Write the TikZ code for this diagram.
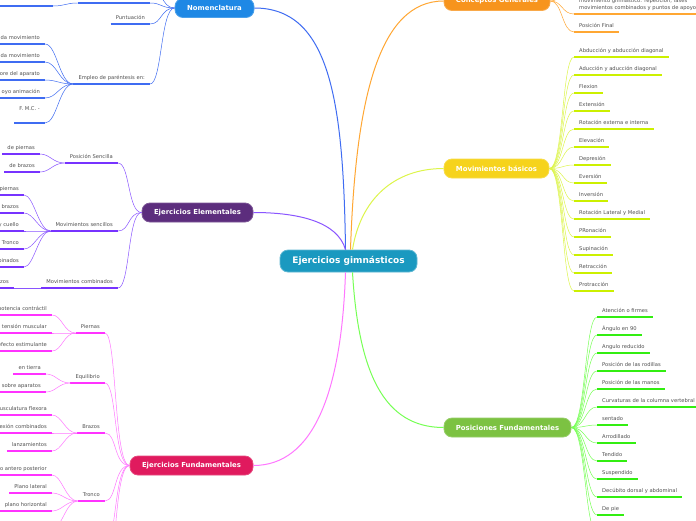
\documentclass[tikz,border=0pt]{standalone}
\usepackage{fontspec}
\setmainfont{DejaVu Sans}
\definecolor{cfill}{HTML}{1A99C0}
\definecolor{nomfill}{HTML}{1E88E5}
\definecolor{nomline}{HTML}{3F6CF2}
\definecolor{cgfill}{HTML}{F7941D}
\definecolor{cgline}{HTML}{FFA733}
\definecolor{mbfill}{HTML}{F6D31C}
\definecolor{mbline}{HTML}{DDF54A}
\definecolor{mbund}{HTML}{CCF000}
\definecolor{pffill}{HTML}{7CC242}
\definecolor{pfline}{HTML}{77FF55}
\definecolor{pfund}{HTML}{33EE11}
\definecolor{eefill}{HTML}{5C2D7D}
\definecolor{eeline}{HTML}{8A55FF}
\definecolor{eeund}{HTML}{7733FF}
\definecolor{effill}{HTML}{E01A5E}
\definecolor{efline}{HTML}{FF77FF}
\definecolor{efund}{HTML}{FF33FF}
\definecolor{leaftext}{HTML}{505050}
\begin{document}
\begin{tikzpicture}[
  x=1pt, y=-1pt,
  topic/.style={rectangle, rounded corners=8pt, fill=cfill, draw=cfill!70!white, line width=0.8pt, text=white,
    minimum width=137pt, minimum height=22pt, font=\bfseries\fontsize{9}{10}\selectfont},
  branch/.style={rectangle, rounded corners=8pt, fill=#1fill, draw=#1fill!80!white, line width=0.8pt, text=white,
    minimum height=19pt, inner xsep=2pt, font=\bfseries\fontsize{6.9}{8}\selectfont},
  leaf/.style={font=\fontsize{5.2}{6.8}\selectfont, text=leaftext, inner xsep=5pt, inner ysep=3pt,
    text height=3.9pt, text depth=1pt,
    append after command={(\tikzlastnode.south west) edge[draw=#1, line width=1.3pt] (\tikzlastnode.south east)}},
  trunk/.style={draw=#1, line width=1pt},
  link/.style={draw=#1, line width=0.5pt}
]
\path[use as bounding box, fill=white] (0,0) rectangle (696,520);

\node[topic] (root) at (348.5,261) {Ejercicios gimnásticos};

\node[branch=nom, minimum width=79pt] (nom) at (214.5,8) {Nomenclatura};
\node[branch=cg, minimum width=106pt] (cg) at (497,1) {Conceptos Generales};
\node[branch=mb, minimum width=105pt] (mb) at (496.5,168.5) {Movimientos básicos};
\node[branch=pf, minimum width=127pt] (pf) at (507.5,427.5) {Posiciones Fundamentales};
\node[branch=ee, minimum width=111pt] (ee) at (197.5,212.5) {Ejercicios Elementales};
\node[branch=ef, minimum width=123pt] (ef) at (191.5,465.5) {Ejercicios Fundamentales};

\draw[trunk=nomline] ([xshift=-3pt]root.north) .. controls +(-2,-150) and +(75,0) .. (nom.east);
\draw[trunk=cgline] ([xshift=2pt]root.north) .. controls +(5,-150) and +(-65,0) .. (cg.west);
\draw[trunk=mbline] ([xshift=4pt]root.north) .. controls +(8,-50) and +(-50,0) .. (mb.west);
\draw[trunk=pfline] ([xshift=4pt]root.south) .. controls +(6,100) and +(-60,0) .. (pf.west);
\draw[trunk=eeline] ([xshift=-3pt]root.north) .. controls +(-8,-28) and +(45,0) .. (ee.east);
\draw[trunk=efline] ([xshift=-3pt]root.south) .. controls +(-4,120) and +(60,0) .. (ef.east);

% Nomenclatura
\coordinate (nom0) at (150,-14);
\node[leaf=nomline, anchor=south east, minimum width=72pt] (nom1) at (150,3) {};
\node[leaf=nomline, anchor=south east, minimum width=60pt] (nom1a) at (53,6) {};
\node[leaf=nomline, anchor=south east] (nom2) at (150,24) {Puntuación};
\node[leaf=nomline, anchor=south east] (nom3) at (150,84) {Empleo de paréntesis en:};
\node[leaf=nomline, anchor=south east] (nom3a) at (45,44) {da movimiento};
\node[leaf=nomline, anchor=south east] (nom3b) at (45,62) {da movimiento};
\node[leaf=nomline, anchor=south east] (nom3c) at (45,80) {ore del aparato};
\node[leaf=nomline, anchor=south east] (nom3d) at (45,98) {oyo animación};
\node[leaf=nomline, anchor=south east, text depth=9pt] (nom3e) at (45,123) {F. M.C. -};
\foreach \k in {nom0,nom1.south east,nom2.south east,nom3.south east}
  \draw[link=nomline] (nom.west) .. controls +(-14,0) and +(12,0) .. (\k);
\draw[link=nomline] (nom1.south west) .. controls +(-12,0) and +(12,0) .. (nom1a.south east);
\foreach \k in {nom3a,nom3b,nom3c,nom3d,nom3e}
  \draw[link=nomline] (nom3.south west) .. controls +(-14,0) and +(12,0) .. (\k.south east);

% Conceptos Generales
\coordinate (cg0) at (574,-14);
\node[leaf=cgline, anchor=south west, align=left, text height={}, text depth={}] (cg1) at (574,14)
  {movimiento gimnástico: repetición, fases\\movimientos combinados y puntos de apoyo};
\node[leaf=cgline, anchor=south west] (cg2) at (574,32) {Posición Final};
\foreach \k in {cg0,cg1.south west,cg2.south west}
  \draw[link=cgline] (cg.east) .. controls +(12,0) and +(-12,0) .. (\k);

% Movimientos basicos
\node[leaf=mbund, anchor=south west] (mb1) at (574,57) {Abducción y abducción diagonal};
\node[leaf=mbund, anchor=south west] (mb2) at (574,75) {Aducción y aducción diagonal};
\node[leaf=mbund, anchor=south west] (mb3) at (574,93) {Flexion};
\node[leaf=mbund, anchor=south west] (mb4) at (574,111) {Extensión};
\node[leaf=mbund, anchor=south west] (mb5) at (574,129) {Rotación externa e interna};
\node[leaf=mbund, anchor=south west] (mb6) at (574,147) {Elevación};
\node[leaf=mbund, anchor=south west] (mb7) at (574,165) {Depresión};
\node[leaf=mbund, anchor=south west] (mb8) at (574,183) {Eversión};
\node[leaf=mbund, anchor=south west] (mb9) at (574,201) {Inversión};
\node[leaf=mbund, anchor=south west] (mb10) at (574,219) {Rotación Lateral y Medial};
\node[leaf=mbund, anchor=south west] (mb11) at (574,237) {PRonación};
\node[leaf=mbund, anchor=south west] (mb12) at (574,255) {Supinación};
\node[leaf=mbund, anchor=south west] (mb13) at (574,273) {Retracción};
\node[leaf=mbund, anchor=south west] (mb14) at (574,291) {Protracción};
\foreach \k in {1,...,14}
  \draw[link=mbline] (mb.east) .. controls +(14,0) and +(-12,0) .. (mb\k.south west);

% Posiciones Fundamentales
\node[leaf=pfund, anchor=south west] (pf1) at (597,317) {Atención o firmes};
\node[leaf=pfund, anchor=south west] (pf2) at (597,335) {Ángulo en 90};
\node[leaf=pfund, anchor=south west] (pf3) at (597,353) {Angulo reducido};
\node[leaf=pfund, anchor=south west] (pf4) at (597,371) {Posición de las rodillas};
\node[leaf=pfund, anchor=south west] (pf5) at (597,389) {Posición de las manos};
\node[leaf=pfund, anchor=south west] (pf6) at (597,407) {Curvaturas de la columna vertebral};
\node[leaf=pfund, anchor=south west] (pf7) at (597,425) {sentado};
\node[leaf=pfund, anchor=south west] (pf8) at (597,443) {Arrodillado};
\node[leaf=pfund, anchor=south west] (pf9) at (597,461) {Tendido};
\node[leaf=pfund, anchor=south west] (pf10) at (597,479) {Suspendido};
\node[leaf=pfund, anchor=south west] (pf11) at (597,497) {Decúbito dorsal y abdominal};
\node[leaf=pfund, anchor=south west] (pf12) at (597,515) {De pie};
\coordinate (pf13) at (597,533);
\foreach \k in {1,...,12}
  \draw[link=pfline] (pf.east) .. controls +(14,0) and +(-12,0) .. (pf\k.south west);
\draw[link=pfline] (pf.east) .. controls +(14,0) and +(-12,0) .. (pf13);

% Ejercicios Elementales
\node[leaf=eeund, anchor=south east] (ee1) at (118,163) {Posición Sencilla};
\node[leaf=eeund, anchor=south east] (ee1a) at (40,154) {de piernas};
\node[leaf=eeund, anchor=south east] (ee1b) at (40,172) {de brazos};
\node[leaf=eeund, anchor=south east] (ee2) at (118,231) {Movimientos sencillos};
\node[leaf=eeund, anchor=south east] (ee2a) at (24,195) {piernas};
\node[leaf=eeund, anchor=south east] (ee2b) at (24,213) {brazos};
\node[leaf=eeund, anchor=south east] (ee2c) at (24,231) {y cuello};
\node[leaf=eeund, anchor=south east] (ee2d) at (24,249) {Tronco};
\node[leaf=eeund, anchor=south east] (ee2e) at (24,267) {combinados};
\node[leaf=eeund, anchor=south east] (ee3) at (118,288) {Movimientos combinados};
\node[leaf=eeund, anchor=south east] (ee3a) at (14,288) {brazos};
\foreach \k in {ee1,ee2,ee3}
  \draw[link=eeline] (ee.west) .. controls +(-14,0) and +(12,0) .. (\k.south east);
\foreach \k in {ee1a,ee1b}
  \draw[link=eeline] (ee1.south west) .. controls +(-12,0) and +(10,0) .. (\k.south east);
\foreach \k in {ee2a,ee2b,ee2c,ee2d,ee2e}
  \draw[link=eeline] (ee2.south west) .. controls +(-12,0) and +(10,0) .. (\k.south east);
\draw[link=eeline] (ee3.south west) -- (ee3a.south east);

% Ejercicios Fundamentales
\node[leaf=efund, anchor=south east] (ef1) at (105,333) {Piernas};
\node[leaf=efund, anchor=south east] (ef1a) at (52,315) {potencia contráctil};
\node[leaf=efund, anchor=south east] (ef1b) at (52,333) {tensión muscular};
\node[leaf=efund, anchor=south east] (ef1c) at (52,351) {efecto estimulante};
\node[leaf=efund, anchor=south east] (ef2) at (105,383) {Equilibrio};
\node[leaf=efund, anchor=south east] (ef2a) at (46,374) {en tierra};
\node[leaf=efund, anchor=south east] (ef2b) at (46,392) {sobre aparatos};
\node[leaf=efund, anchor=south east] (ef3) at (105,433) {Brazos};
\node[leaf=efund, anchor=south east] (ef3a) at (52,415) {musculatura flexora};
\node[leaf=efund, anchor=south east] (ef3b) at (52,433) {flexión combinados};
\node[leaf=efund, anchor=south east] (ef3c) at (52,451) {lanzamientos};
\node[leaf=efund, anchor=south east] (ef4) at (105,501) {Tronco};
\node[leaf=efund, anchor=south east] (ef4a) at (52,475) {plano antero posterior};
\node[leaf=efund, anchor=south east] (ef4b) at (52,493) {Plano lateral};
\node[leaf=efund, anchor=south east] (ef4c) at (52,511) {plano horizontal};
\coordinate (ef4d) at (52,529);
\coordinate (ef5) at (105,545);
\coordinate (ef6) at (105,580);
\foreach \k in {ef1.south east,ef2.south east,ef3.south east,ef4.south east,ef5,ef6}
  \draw[link=efline] (ef.west) .. controls +(-16,0) and +(12,0) .. (\k);
\foreach \k in {ef1a,ef1b,ef1c}
  \draw[link=efline] (ef1.south west) .. controls +(-12,0) and +(10,0) .. (\k.south east);
\foreach \k in {ef2a,ef2b}
  \draw[link=efline] (ef2.south west) .. controls +(-12,0) and +(10,0) .. (\k.south east);
\foreach \k in {ef3a,ef3b,ef3c}
  \draw[link=efline] (ef3.south west) .. controls +(-12,0) and +(10,0) .. (\k.south east);
\foreach \k in {ef4a.south east,ef4b.south east,ef4c.south east,ef4d}
  \draw[link=efline] (ef4.south west) .. controls +(-12,0) and +(10,0) .. (\k);
\end{tikzpicture}
\end{document}
